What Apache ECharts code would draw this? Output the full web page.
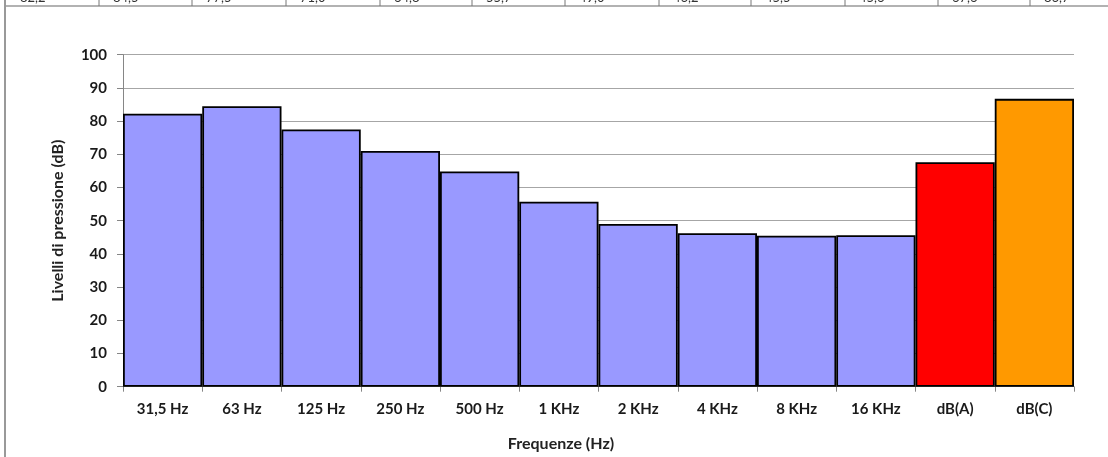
<!DOCTYPE html>
<html>
<head>
<meta charset="utf-8">
<script src="https://cdn.jsdelivr.net/npm/echarts@6/dist/echarts.min.js"></script>
<style>
html,body{margin:0;padding:0;background:#fff;}
#c{width:1108px;height:457px;}
</style>
</head>
<body>
<div id="c"></div>
<script>
// ---- data ----
const categories = ['31,5 Hz','63 Hz','125 Hz','250 Hz','500 Hz','1 KHz','2 KHz','4 KHz','8 KHz','16 KHz','dB(A)','dB(C)'];
const levels = [82.2, 84.5, 77.5, 71.0, 64.8, 55.7, 49.0, 46.2, 45.5, 45.6, 67.6, 86.7];
const yTicks = [0,10,20,30,40,50,60,70,80,90,100];
const yAxisTitle = 'Livelli di pressione (dB)';
const xAxisTitle = 'Frequenze (Hz)';

// ---- styles ----
const barColors = ['#9999FF','#9999FF','#9999FF','#9999FF','#9999FF','#9999FF','#9999FF','#9999FF','#9999FF','#9999FF','#FF0000','#FF9900'];
const FONT = 'Lato';

const chart = echarts.init(document.getElementById('c'), null, {renderer:'canvas'});

// partially visible table row at the top (cut off in the original image)
const sepX = [99,192,286,380,472,565,659,751,845,938,1030];
const tableGraphics = [];
tableGraphics.push({type:'line', shape:{x1:5,y1:0,x2:5,y2:457}, style:{stroke:'#555',lineWidth:1.2}, silent:true});
tableGraphics.push({type:'line', shape:{x1:5,y1:6,x2:1108,y2:6}, style:{stroke:'#999',lineWidth:1.5}, silent:true});
sepX.forEach(x => tableGraphics.push({type:'line', shape:{x1:x,y1:0,x2:x,y2:6}, style:{stroke:'#777',lineWidth:1}, silent:true}));
const cellStarts = [6].concat(sepX);
levels.forEach((v,i) => tableGraphics.push({
  type:'text', x: cellStarts[i] + 14, y: -9, silent:true,
  style:{text: v.toFixed(1).replace('.', ','), fill:'#333', font:'13px ' + FONT, textAlign:'left', textVerticalAlign:'top'}
}));

chart.setOption({
  animation:false,
  backgroundColor:'#fff',
  grid:{left:123, right:34, top:54.7, bottom:70.3, containLabel:false},
  xAxis:{
    type:'category',
    data:categories,
    name:xAxisTitle,
    nameLocation:'middle',
    nameGap:49,
    nameTextStyle:{fontFamily:FONT, fontWeight:'bold', fontSize:16, color:'#222', padding:[0,75,0,0]},
    axisLine:{show:true, lineStyle:{color:'#868686', width:1}},
    axisTick:{show:true, alignWithLabel:false, length:5, lineStyle:{color:'#868686'}},
    axisLabel:{fontFamily:FONT, fontWeight:'bold', fontSize:15, color:'#1a1a1a', margin:15},
    splitLine:{show:false}
  },
  yAxis:{
    type:'value',
    min:yTicks[0],
    max:yTicks[yTicks.length-1],
    interval:yTicks[1]-yTicks[0],
    name:yAxisTitle,
    nameLocation:'middle',
    nameGap:57,
    nameTextStyle:{fontFamily:FONT, fontWeight:'bold', fontSize:16, color:'#222'},
    axisLine:{show:true, lineStyle:{color:'#868686', width:1}},
    axisTick:{show:true, length:6, lineStyle:{color:'#868686'}},
    axisLabel:{fontFamily:FONT, fontWeight:'bold', fontSize:15, color:'#1a1a1a', margin:16},
    splitLine:{show:true, lineStyle:{color:'#A6A6A6', width:1.2}}
  },
  series:[{
    type:'bar',
    data:levels.map((v,i)=>({value:v, itemStyle:{color:barColors[i]}})),
    barCategoryGap:'0%',
    itemStyle:{borderColor:'#000', borderWidth:1.8},
    silent:true
  }],
  graphic: tableGraphics
});
</script>
</body>
</html>
